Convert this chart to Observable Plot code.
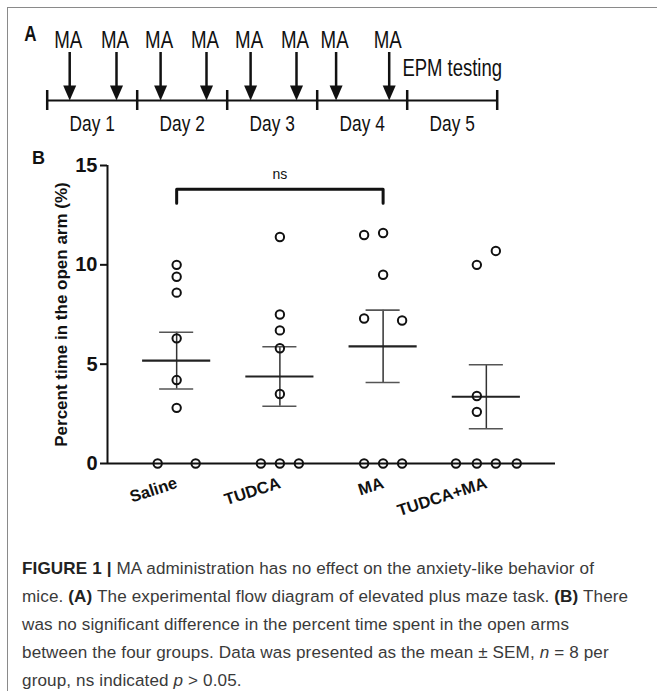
<!DOCTYPE html>
<html><head><meta charset="utf-8">
<script src="https://cdn.jsdelivr.net/npm/d3@7"></script>
<script src="https://cdn.jsdelivr.net/npm/@observablehq/plot@0.6"></script>
<style>
html,body{margin:0;padding:0;background:#fff;width:657px;height:691px;overflow:hidden;font-family:"Liberation Sans",Arial,sans-serif;}
#frame{position:absolute;left:7px;top:7px;width:700px;height:720px;border-left:1px solid #8a8a8a;border-top:1px solid #8a8a8a;}
#panelA{position:absolute;left:0;top:0;}
#panelB{position:absolute;left:0;top:140px;}
#caption{position:absolute;left:22px;top:555px;font-size:17.1px;line-height:28px;color:#3a3a3a;white-space:nowrap;letter-spacing:0.12px;}
#caption b{color:#222;}
svg{overflow:visible;}
</style></head><body>
<div id="frame"></div>
<div id="panelA"></div>
<div id="panelB"></div>
<div id="caption"></div>
<script>
// ---- Panel A: experimental timeline ----
const dayLabels = ["Day 1", "Day 2", "Day 3", "Day 4", "Day 5"];
const dayBounds = [0, 1, 2, 3, 4, 5];
const maTimes = [0.25, 0.77, 1.26, 1.77, 2.26, 2.77, 3.21, 3.8];
const maLabel = "MA";
const testLabel = "EPM testing";
const testDay = 4.5;

// ---- Panel B: percent time in open arm ----
const groups = ["Saline", "TUDCA", "MA", "TUDCA+MA"];
const salineValues = [10.0, 9.4, 8.6, 6.3, 4.2, 2.8, 0, 0];
const salineJitter = [0, 0, 0, 0, 0, 0, -1, 1];
const tudcaValues = [11.4, 7.5, 6.7, 5.8, 3.5, 0, 0, 0];
const tudcaJitter = [0, 0, 0, 0, 0, -1, 0, 1];
const maValues = [11.5, 11.6, 9.5, 7.3, 7.2, 0, 0, 0];
const maJitter = [-1, 0, 0, -1, 1, -1, 0, 1];
const tudcaMaValues = [10.0, 10.7, 3.4, 2.6, 0, 0, 0, 0];
const tudcaMaJitter = [-0.5, 0.5, -0.5, -0.5, -1.6, -0.5, 0.5, 1.6];
const means = [5.18, 4.38, 5.9, 3.36];
const sems = [1.43, 1.5, 1.82, 1.61];
const yTicks = [0, 5, 10, 15];
const yLabel = "Percent time in the open arm (%)";
const comparison = [0, 2];
const comparisonLabel = "ns";
const bracketHeight = 13.8;
const bracketDrop = 0.7;

const jitterStep = 0.184;
const valueSets = [salineValues, tudcaValues, maValues, tudcaMaValues];
const jitterSets = [salineJitter, tudcaJitter, maJitter, tudcaMaJitter];
const points = [];
valueSets.forEach((vals, g) => vals.forEach((v, k) => points.push({g, x: g + jitterSets[g][k] * jitterStep, y: v})));
const summary = groups.map((name, i) => ({i, name, mean: means[i], sem: sems[i]}));
const bracket = [
  {x: comparison[0], y: bracketHeight - bracketDrop},
  {x: comparison[0], y: bracketHeight},
  {x: comparison[1], y: bracketHeight},
  {x: comparison[1], y: bracketHeight - bracketDrop}
];
const ink = "#111";

const plotA = Plot.plot({
  width: 657, height: 140,
  marginLeft: 46.7, marginRight: 160.3, marginTop: 52, marginBottom: 40,
  style: {fontFamily: "'Liberation Sans', Arial, sans-serif", color: ink, background: "transparent"},
  x: {domain: [0, 5], range: [46.7, 496.7], axis: null},
  y: {domain: [0, 48], range: [100, 52], axis: null},
  marks: [
    Plot.ruleY([0], {x1: 0, x2: 5, stroke: ink, strokeWidth: 2}),
    Plot.ruleX(dayBounds, {x: d => d, y1: -10, y2: 10, stroke: ink, strokeWidth: 2.5}),
    Plot.ruleX(maTimes, {x: d => d, y1: 14, y2: 48, stroke: ink, strokeWidth: 2.5}),
    Plot.vector(maTimes, {x: d => d, y: 0, rotate: 180, length: 15, r: 6.5, shape: "spike", anchor: "end", fill: ink, stroke: "none"}),
    Plot.text(maTimes, {x: d => d, y: 48, text: () => maLabel, dx: -1.5, dy: -12, fontSize: 18.7, fill: ink}),
    Plot.text(dayLabels, {x: (d, i) => i + 0.5, y: 0, text: d => d, dy: 23, fontSize: 17.3, fill: ink}),
    Plot.text([testLabel], {x: testDay, y: 0, text: d => d, dy: -32, fontSize: 18.5, fill: ink}),
    Plot.text(["A"], {x: 0, y: 48, text: d => d, dx: -16.7, dy: -19, fontSize: 17, fontWeight: "bold", fill: ink})
  ]
});
document.getElementById("panelA").appendChild(plotA);
// stretch panel A labels vertically about their own anchor (reference glyphs are tall and narrow)
plotA.querySelectorAll("text").forEach(t => {
  const tr = t.getAttribute("transform");
  if (tr) {
    t.setAttribute("transform", tr + " scale(1,1.3)");
  } else {
    const x = +(t.getAttribute("x") || 0), y = +(t.getAttribute("y") || 0);
    t.removeAttribute("x"); t.removeAttribute("y");
    t.setAttribute("transform", `translate(${x},${y}) scale(1,1.3)`);
  }
});

const plotB = Plot.plot({
  width: 657, height: 400,
  marginLeft: 107, marginRight: 102, marginTop: 25, marginBottom: 77,
  style: {fontFamily: "'Liberation Sans', Arial, sans-serif", color: ink, background: "transparent"},
  x: {domain: [-0.67, 3.67], axis: null},
  y: {domain: [0, 15], axis: null},
  marks: [
    Plot.axisY({ticks: yTicks, tickSize: 7, tickPadding: 3, fontSize: 20, fontWeight: "bold", label: null, stroke: ink, strokeWidth: 2, fill: ink}),
    Plot.ruleX([-0.67], {y1: 0, y2: 15, stroke: ink, strokeWidth: 2}),
    Plot.ruleY([0], {stroke: ink, strokeWidth: 2}),
    Plot.text([yLabel], {frameAnchor: "left", rotate: -90, textAnchor: "middle", dx: -46, text: d => d, fontSize: 17, fontWeight: "bold", fill: ink}),
    Plot.text(groups, {x: (d, i) => i, y: 0, text: d => d, rotate: -18, textAnchor: "end", dy: 19, fontSize: 16.5, fontWeight: "bold", fill: ink}),
    Plot.ruleX(summary, {x: "i", y1: d => d.mean - d.sem, y2: d => d.mean + d.sem, stroke: "#333", strokeWidth: 1.5}),
    Plot.ruleY(summary, {y: d => d.mean + d.sem, x1: d => d.i - 0.165, x2: d => d.i + 0.165, stroke: "#555", strokeWidth: 1.6}),
    Plot.ruleY(summary, {y: d => d.mean - d.sem, x1: d => d.i - 0.165, x2: d => d.i + 0.165, stroke: "#555", strokeWidth: 1.6}),
    Plot.ruleY(summary, {y: "mean", x1: d => d.i - 0.33, x2: d => d.i + 0.33, stroke: "#222", strokeWidth: 2.2}),
    Plot.dot(points, {x: "x", y: "y", r: 4.2, stroke: ink, strokeWidth: 2, fill: "none"}),
    Plot.line(bracket, {x: "x", y: "y", stroke: ink, strokeWidth: 3}),
    Plot.text([comparisonLabel], {x: (comparison[0] + comparison[1]) / 2, y: bracketHeight, text: d => d, dy: -15, fontSize: 14, fill: ink}),
    Plot.text(["B"], {x: -0.67, y: 15, text: d => d, dx: -69, dy: -7, fontSize: 18, fontWeight: "bold", fill: ink})
  ]
});
document.getElementById("panelB").appendChild(plotB);

document.getElementById("caption").innerHTML =
  "<b>FIGURE 1 |</b> MA administration has no effect on the anxiety-like behavior of<br>" +
  "mice. <b>(A)</b> The experimental flow diagram of elevated plus maze task. <b>(B)</b> There<br>" +
  "was no significant difference in the percent time spent in the open arms<br>" +
  "between the four groups. Data was presented as the mean \u00b1 SEM, <i>n</i> = 8 per<br>" +
  "group, ns indicated <i>p</i> &gt; 0.05.";
</script>
</body></html>
